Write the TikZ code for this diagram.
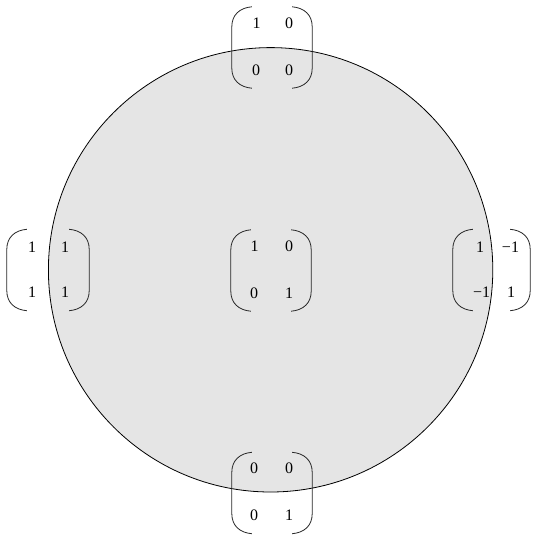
\documentclass[tikz,border=0pt]{standalone}
\usepackage{fontspec}
\setmainfont{Liberation Serif}
\usetikzlibrary{calc}
\tikzset{
  ent/.style={inner sep=0pt, font=\fontsize{16}{16}\selectfont},
  mbox/.style={inner sep=0pt, minimum width=#1, minimum height=81pt},
  brk/.style={line width=0.8pt, draw=black!85},
  disk/.style={draw=black, line width=0.8pt, fill=gray!20},
}
\newcommand\mbrackets[1]{%
  \draw[brk] ($(#1.north west)+(20,0)$) .. controls ($(#1.north west)+(8,1)$) and ($(#1.north west)+(0,8)$) .. ($(#1.north west)+(0,20)$)
    -- ($(#1.south west)+(0,-20)$) .. controls ($(#1.south west)+(0,-8)$) and ($(#1.south west)+(8,-1)$) .. ($(#1.south west)+(20,0)$);
  \draw[brk] ($(#1.north east)+(-20,0)$) .. controls ($(#1.north east)+(-8,1)$) and ($(#1.north east)+(0,8)$) .. ($(#1.north east)+(0,20)$)
    -- ($(#1.south east)+(0,-20)$) .. controls ($(#1.south east)+(0,-8)$) and ($(#1.south east)+(-8,-1)$) .. ($(#1.south east)+(-20,0)$);
}
\begin{document}
\begin{tikzpicture}[x=1pt, y=-1pt]
\useasboundingbox (0,0) rectangle (534,535);
\node[disk, circle, minimum size=444.4pt, inner sep=0pt] (disk) at (270.6,269.8) {};

% top
\node[mbox=80pt] (mtop) at (272,47.5) {};
\node[ent] (t11) at (256.5,23) {1};
\node[ent] (t12) at (289,23) {0};
\node[ent] (t21) at (256,70) {0};
\node[ent] (t22) at (289,70) {0};
\mbrackets{mtop}

% left
\node[mbox=82pt] (mleft) at (48,270) {};
\node[ent] (l11) at (32,247) {1};
\node[ent] (l12) at (65,247) {1};
\node[ent] (l21) at (32,292) {1};
\node[ent] (l22) at (65,292) {1};
\mbrackets{mleft}

% center
\node[mbox=80pt] (mcenter) at (271,270.5) {};
\node[ent] (c11) at (254.5,246) {1};
\node[ent] (c12) at (289,246) {0};
\node[ent] (c21) at (254,293) {0};
\node[ent] (c22) at (289,293) {1};
\mbrackets{mcenter}

% right
\node[mbox=77pt] (mright) at (491.5,270) {};
\node[ent] (r11) at (480,247) {1};
\node[ent] (r12) at (510.5,247) {−1};
\node[ent] (r21) at (481.7,292) {−1};
\node[ent] (r22) at (511,292) {1};
\mbrackets{mright}

% bottom
\node[mbox=80pt] (mbottom) at (272,493) {};
\node[ent] (b11) at (254,468) {0};
\node[ent] (b12) at (289,468) {0};
\node[ent] (b21) at (254,515) {0};
\node[ent] (b22) at (289,515) {1};
\mbrackets{mbottom}
\end{tikzpicture}
\end{document}
